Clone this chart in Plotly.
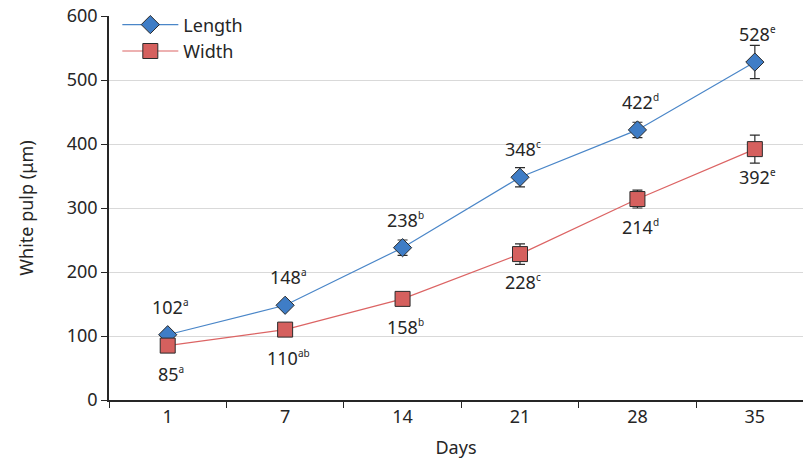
import plotly.graph_objects as go

# Days of sampling and measured white pulp dimensions (µm)
days = ["1", "7", "14", "21", "28", "35"]
length_mean = [102, 148, 238, 348, 422, 528]
length_err = [3, 5, 12, 15, 12, 26]
width_mean = [85, 110, 158, 228, 314, 392]
width_err = [4, 4, 4, 16, 14, 22]

# Value labels with significance letters
length_labels = ["102", "148", "238", "348", "422", "528"]
length_letters = ["a", "a", "b", "c", "d", "e"]
width_labels = ["85", "110", "158", "228", "214", "392"]
width_letters = ["a", "ab", "b", "c", "d", "e"]

FONT = "Noto Sans, Open Sans, sans-serif"
TXT = "#262626"


def value_label(num, letters):
    return f"{num}<sup><span style='font-size:10px'>{letters}</span></sup>"


fig = go.Figure()

fig.add_trace(go.Scatter(
    x=days, y=length_mean, name="Length", mode="lines+markers",
    line=dict(color="#4a86c8", width=1.2),
    marker=dict(symbol="diamond", size=14, color="#3f7dc6",
                line=dict(color="#2b2b2b", width=1)),
    error_y=dict(type="data", array=length_err, visible=True,
                 color="#2b2b2b", thickness=1.2, width=5),
))
fig.add_trace(go.Scatter(
    x=days, y=width_mean, name="Width", mode="lines+markers",
    line=dict(color="#dc6464", width=1.2),
    marker=dict(symbol="square", size=15, color="#d5605e",
                line=dict(color="#2b2b2b", width=1)),
    error_y=dict(type="data", array=width_err, visible=True,
                 color="#2b2b2b", thickness=1.2, width=5),
))

# Category positions are addressed by index for the annotations
annotations = []
for i, (v, lab, let) in enumerate(zip(length_mean, length_labels, length_letters)):
    annotations.append(dict(
        x=i, y=v, xref="x", yref="y", text=value_label(lab, let),
        showarrow=False, yshift=28, xshift=3,
        font=dict(family=FONT, size=18, color=TXT)))
for i, (v, lab, let) in enumerate(zip(width_mean, width_labels, width_letters)):
    annotations.append(dict(
        x=i, y=v, xref="x", yref="y", text=value_label(lab, let),
        showarrow=False, yshift=-28, xshift=3,
        font=dict(family=FONT, size=18, color=TXT)))

fig.update_layout(
    width=803, height=464,
    margin=dict(l=109, r=0, t=16, b=64),
    paper_bgcolor="white", plot_bgcolor="white",
    font=dict(family=FONT, size=18, color=TXT),
    showlegend=True,
    legend=dict(x=0.012, y=1.025, xanchor="left", yanchor="top",
                bgcolor="rgba(0,0,0,0)", font=dict(size=18, color=TXT),
                itemwidth=56, tracegroupgap=0),
    annotations=annotations,
    xaxis=dict(
        type="category", range=[-0.5, 5.41],
        tickson="boundaries", ticks="outside", ticklen=6,
        tickcolor="#262626", showline=True, linecolor="#262626",
        linewidth=1.5, showgrid=False,
        tickfont=dict(size=18, color=TXT),
        title=dict(text="Days", font=dict(size=18, color=TXT), standoff=14),
    ),
    yaxis=dict(
        range=[0, 600], dtick=100, ticks="outside", ticklen=6,
        tickcolor="#262626", showline=True, linecolor="#262626",
        linewidth=1.5, showgrid=True, gridcolor="#d9d9d9", gridwidth=1,
        zeroline=False, tickfont=dict(size=18, color=TXT),
        title=dict(text="White pulp (μm)", font=dict(size=18, color=TXT),
                   standoff=28),
    ),
)

fig.write_html("out.html")
